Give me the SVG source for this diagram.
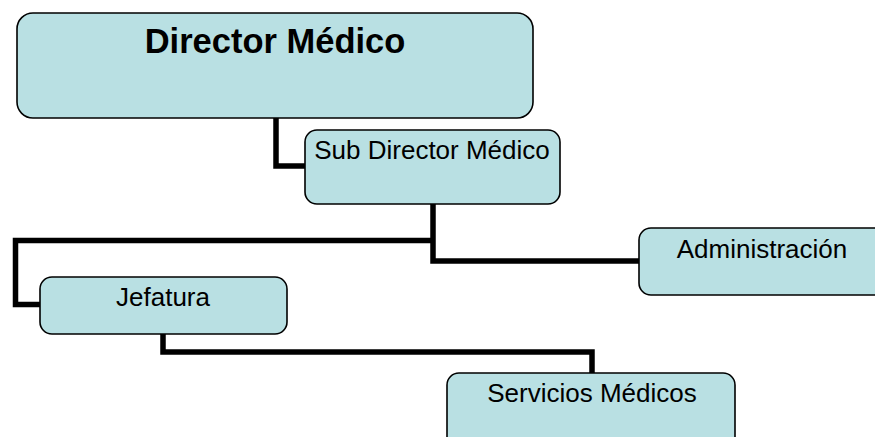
<svg xmlns="http://www.w3.org/2000/svg" width="875" height="437" viewBox="0 0 875 437">
<style>
.box{fill:#b9e0e3;stroke:#000;stroke-width:1.6}
.t{font-family:"Liberation Sans",Arial,sans-serif;fill:#000;text-anchor:middle;font-size:26px}
.c{fill:none;stroke:#000;stroke-width:5.5;stroke-linejoin:miter}
</style>
<rect width="875" height="437" fill="#fff"/>
<g id="connectors">
<polyline class="c" points="276,118 276,166 305,166"/>
<polyline class="c" points="433,204 433,261 640,261"/>
<polyline class="c" points="433,240.5 15.5,240.5 15.5,304.5 40,304.5"/>
<polyline class="c" points="163,334 163,352 592,352 592,373"/>
</g>
<g id="director">
<rect class="box" x="17" y="13" width="516" height="105" rx="16"/>
<text class="t" x="275" y="52.5" style="font-size:34.5px" font-weight="bold">Director Médico</text>
</g>
<g id="subdirector">
<rect class="box" x="305" y="130" width="255" height="74" rx="12"/>
<text class="t" x="432" y="158.5">Sub Director Médico</text>
</g>
<g id="administracion">
<rect class="box" x="639" y="228" width="250" height="67" rx="12"/>
<text class="t" x="762" y="258">Administración</text>
</g>
<g id="jefatura">
<rect class="box" x="40" y="277" width="247" height="57" rx="12"/>
<text class="t" x="163" y="306">Jefatura</text>
</g>
<g id="servicios">
<rect class="box" x="447" y="373" width="288" height="80" rx="12"/>
<text class="t" x="592" y="402">Servicios Médicos</text>
</g>
</svg>
